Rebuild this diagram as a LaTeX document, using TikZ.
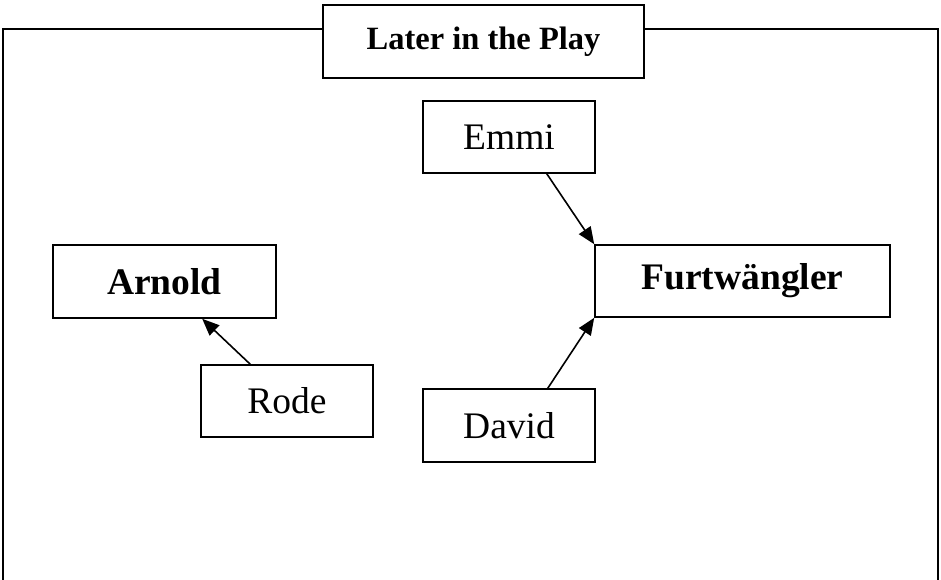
\documentclass[tikz,border=0pt]{standalone}
\usepackage{fontspec}
\setmainfont{Liberation Serif}
\usetikzlibrary{arrows.meta}

\tikzset{
  box/.style={draw, line width=1.6pt, fill=white, inner sep=0pt, align=center},
  plain/.style={box, font=\fontsize{37.5}{40}\selectfont},
  heavy/.style={box, font=\fontsize{37.5}{40}\selectfont\bfseries},
  heading/.style={box, font=\fontsize{32.5}{36}\selectfont\bfseries},
  link/.style={line width=1.6pt, -{Triangle[length=17pt,width=14pt]}},
  frame/.style={line width=1.6pt}
}

\begin{document}
\begin{tikzpicture}[x=1pt, y=-1pt]
  \useasboundingbox (0,0) rectangle (941,580);

  % open frame around the scene, broken by the heading
  \draw[frame] (3,585) -- (3,29) -- (323,29);
  \draw[frame] (644,29) -- (938,29) -- (938,585);

  \node[heading, minimum width=321pt, minimum height=73pt] (title) at (483.5,41.5) {Later in the Play};

  \node[heavy, minimum width=223pt, minimum height=73pt] (arnold) at (164.5,281.5) {Arnold};
  \node[heavy, minimum width=295pt, minimum height=72pt] (furt) at (742.5,281) {Furtwängler};

  \node[plain, minimum width=172pt, minimum height=72pt] (emmi) at (509,137) {Emmi};
  \node[plain, minimum width=172pt, minimum height=72pt] (rode) at (287,401) {Rode};
  \node[plain, minimum width=172pt, minimum height=73pt] (david) at (509,425.5) {David};

  % connectors
  \draw[link] ([xshift=-49pt]emmi.south east) -- (furt.north west);
  \draw[link] ([xshift=-48pt]david.north east) -- (furt.south west);
  \draw[link] ([xshift=50pt]rode.north west) -- ([xshift=150pt]arnold.south west);
\end{tikzpicture}
\end{document}
